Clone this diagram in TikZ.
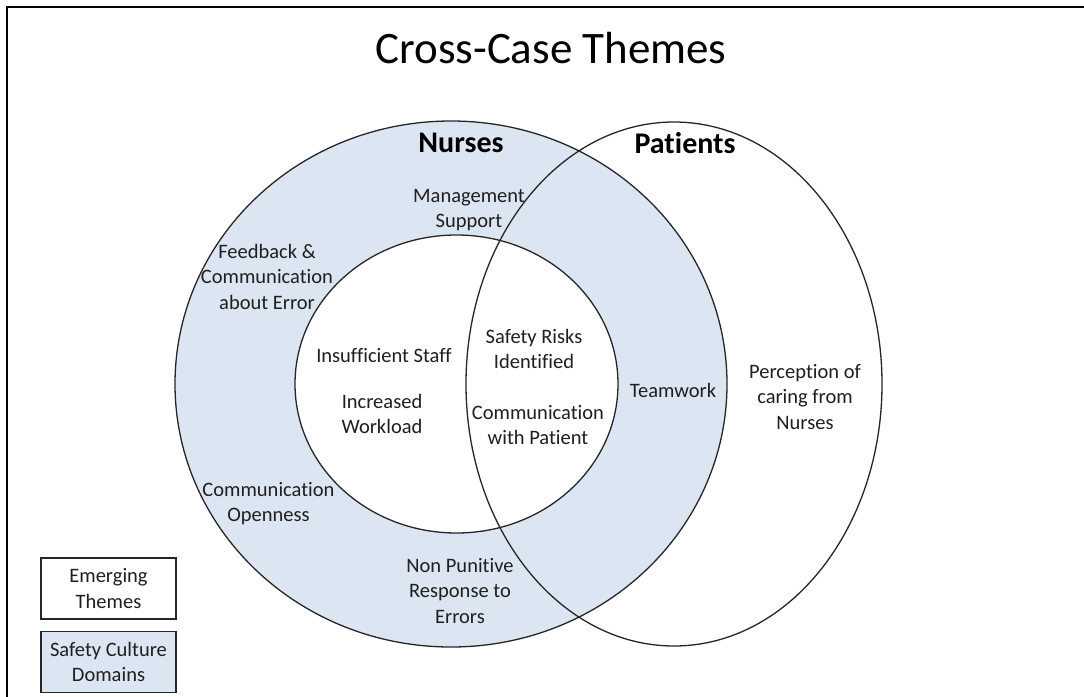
\documentclass[tikz,border=0pt]{standalone}
\usepackage{fontspec}
\setmainfont{Carlito}[Ligatures=NoCommon]

\definecolor{domainblue}{HTML}{DCE6F2}
\definecolor{rim}{HTML}{262626}

\tikzset{
  theme/.style={font=\fontsize{20.5}{25.5}\selectfont, align=center, anchor=base, inner sep=0pt, text=black!88},
  group/.style={font=\fontsize{30}{36}\selectfont\bfseries, anchor=base, inner sep=0pt},
  keybox/.style={draw=rim, line width=1.2pt, minimum width=135pt, minimum height=61pt,
    inner sep=0pt, align=center, font=\fontsize{20.5}{25.5}\selectfont, text=black!88}
}

\begin{document}
\begin{tikzpicture}[x=1pt, y=-1pt, line width=1.3pt]

    \useasboundingbox (0,0) rectangle (1084,696);
    \clip (0,0) rectangle (1084,696);
    \draw[line width=2pt] (7,7) rectangle (1110,720);

    \node[font=\fontsize{45}{54}\selectfont, anchor=base, inner sep=0pt] (title) at (551,63) {Cross-Case Themes};

    % nurses: outer ring of domains, inner disc of emerging themes
    \filldraw[fill=domainblue, draw=rim] (451,384) ellipse [x radius=276, y radius=263];
    \filldraw[fill=white, draw=rim] (456.5,384) ellipse [x radius=161.5, y radius=149];
    % patients, outline only
    \draw[rim] (674,384) ellipse [x radius=208, y radius=262];

    \node[group] (nurses) at (461,152) {Nurses};
    \node[group] (patients) at (685,153) {Patients};

    % safety culture domains (base = last line)
    \node[theme] (mgmt) at (469,227.5) {Management\\Support};
    \node[theme] (feedback) at (267,309) {Feedback \&\\Communication\\about Error};
    \node[theme] (openness) at (268.5,521.5) {Communication\\Openness};
    \node[theme] (punitive) at (460,623) {Non Punitive\\Response to\\Errors};
    \node[theme] (teamwork) at (673,397) {Teamwork};

    % emerging themes
    \node[theme] (staff) at (384,362) {Insufficient Staff};
    \node[theme] (workload) at (382,433.5) {Increased\\Workload};
    \node[theme] (risks) at (534,368.5) {Safety Risks\\Identified};
    \node[theme] (commpat) at (538,444.5) {Communication\\with Patient};
    \node[theme] (caring) at (805,429) {Perception of\\caring from\\Nurses};

    % key
    \node[keybox] (emerging) at (108.5,588.5) {Emerging\\Themes};
    \node[keybox, fill=domainblue] (domains) at (108.5,662) {Safety Culture\\Domains};

\end{tikzpicture}
\end{document}
